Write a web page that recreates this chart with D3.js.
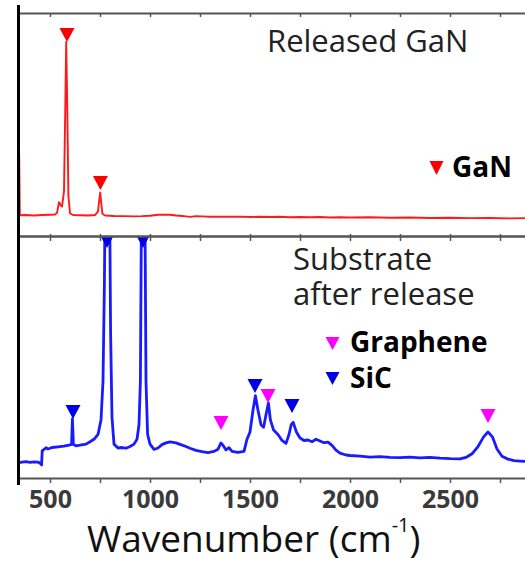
<!DOCTYPE html>
<html>
<head>
<meta charset="utf-8">
<script src="https://cdn.jsdelivr.net/npm/d3@7"></script>
<style>
  body { margin: 0; background: #fff; }
  svg { display: block; font-family: "Open Sans", "DejaVu Sans", sans-serif; }
</style>
</head>
<body>
<svg id="chart" width="525" height="565"></svg>
<script>
// Raman spectra, wavenumber (cm^-1) vs intensity (a.u.)
const ganSpectrum = [
  [346, 36], [349, 9.3], [380, 9.4], [420, 9.2], [460, 9.4], [500, 9.5], [525, 9.6],
  [535, 10.4], [545, 15.2], [552, 14.0], [560, 13.2], [570, 20], [576, 55], [581, 87],
  [586, 60], [592, 18], [600, 10.2], [615, 9.4], [650, 9.3], [690, 9.2], [725, 9.4],
  [740, 11], [746, 16], [751, 19.5], [756, 15], [762, 10], [775, 9.2], [820, 9.0],
  [870, 8.9], [920, 8.8], [960, 8.9], [1000, 9.1], [1040, 9.5], [1070, 9.6], [1100, 9.5],
  [1130, 9.2], [1160, 9.0], [1200, 8.6], [1230, 8.9], [1260, 8.8], [1300, 8.6],
  [1350, 8.7], [1400, 8.6], [1450, 8.7], [1500, 8.5], [1550, 8.6], [1600, 8.5],
  [1650, 8.6], [1700, 8.4], [1750, 8.5], [1800, 8.4], [1850, 8.5], [1900, 8.3],
  [1950, 8.4], [2000, 8.3], [2100, 8.4], [2200, 8.2], [2300, 8.3], [2400, 8.1],
  [2500, 8.2], [2600, 8.0], [2700, 8.1], [2800, 7.9], [2880, 8.0]
];

const substrateSpectrum = [
  [345, 6.3], [360, 6.6], [380, 6.8], [400, 6.5], [420, 6.7], [440, 6.6], [452, 6.0],
  [458, 5.4], [461, 11.2], [470, 11.8], [480, 12.5], [490, 12.0], [510, 12.6],
  [540, 12.9], [570, 13.2], [595, 13.6], [608, 13.9], [612, 24.4], [617, 13.8],
  [630, 13.3], [650, 13.6], [680, 14.0], [700, 15], [720, 16], [740, 18], [755, 24],
  [765, 40], [772, 80], [778, 140], [786, 170], [796, 140], [803, 60], [810, 25],
  [820, 14], [840, 12.4], [860, 12.6], [880, 12.3], [900, 13], [920, 14], [935, 16],
  [945, 22], [952, 40], [958, 120], [966, 170], [974, 120], [980, 40], [988, 18],
  [1000, 14], [1020, 11.8], [1040, 12.4], [1060, 13.8], [1080, 14.5], [1100, 14.9],
  [1130, 14.5], [1150, 13.9], [1180, 13], [1200, 12.3], [1230, 11.4], [1260, 10.9],
  [1290, 10.5], [1320, 11], [1340, 11.9], [1355, 14.5], [1365, 13.5], [1380, 11.6],
  [1395, 12.5], [1410, 11], [1440, 10.6], [1470, 11], [1485, 16], [1500, 19],
  [1515, 28], [1527, 34], [1540, 28], [1555, 22], [1568, 21], [1582, 27], [1592, 31],
  [1602, 24], [1618, 19.8], [1640, 18], [1660, 15.5], [1680, 14.3], [1695, 18],
  [1706, 22], [1716, 23], [1732, 19], [1750, 16.5], [1770, 15.5], [1790, 15.7],
  [1810, 15.0], [1830, 16], [1850, 15.3], [1870, 14.6], [1890, 14.8], [1910, 13.5],
  [1930, 11.5], [1950, 10.3], [1980, 9.5], [2000, 9.3], [2050, 9.0], [2100, 8.6],
  [2150, 8.8], [2200, 8.5], [2250, 8.4], [2300, 8.6], [2350, 8.3], [2400, 8.5],
  [2450, 8.2], [2500, 8.0], [2550, 7.9], [2580, 8.5], [2610, 10], [2640, 13],
  [2668, 17], [2690, 19], [2712, 17], [2735, 12], [2760, 9], [2790, 7.8], [2820, 7.2],
  [2850, 7.0], [2880, 6.8]
];

// peak markers: [wavenumber, intensity at triangle tip]
const ganPeaks = [[585, 87], [752, 20.6]];
const sicPeaks = [[615, 24.4], [785, 95], [965, 95], [1525, 35.1], [1710, 26.9]];
const graphenePeaks = [[1355, 19.8], [1590, 31], [2690, 22.7]];

const xTicks = [500, 750, 1000, 1250, 1500, 1750, 2000, 2250, 2500, 2750];
const xLabels = [500, 1000, 1500, 2000, 2500];

const svg = d3.select('#chart');

const left = 19, right = 526;
const topY0 = 13, midY = 236, botY1 = 478;

const x = d3.scaleLinear().domain([345, 2880]).range([left, right]);
const yTop = d3.scaleLinear().domain([0, 100]).range([midY, topY0]);
const yBot = d3.scaleLinear().domain([0, 100]).range([botY1, midY]);

const defs = svg.append('defs');
defs.append('clipPath').attr('id', 'clipTop').append('rect')
  .attr('x', left).attr('y', topY0).attr('width', right - left).attr('height', midY - topY0);
defs.append('clipPath').attr('id', 'clipBot').append('rect')
  .attr('x', left).attr('y', midY).attr('width', right - left).attr('height', botY1 - midY);

// spectra
const lineTop = d3.line().x(d => x(d[0])).y(d => yTop(d[1]));
const lineBot = d3.line().x(d => x(d[0])).y(d => yBot(d[1]));

svg.append('path')
  .datum(ganSpectrum)
  .attr('clip-path', 'url(#clipTop)')
  .attr('fill', 'none')
  .attr('stroke', '#ff1a1a')
  .attr('stroke-width', 1.9)
  .attr('stroke-linejoin', 'round')
  .attr('d', lineTop);

svg.append('path')
  .datum(substrateSpectrum)
  .attr('clip-path', 'url(#clipBot)')
  .attr('fill', 'none')
  .attr('stroke', '#1a1aff')
  .attr('stroke-width', 2.8)
  .attr('stroke-linejoin', 'round')
  .attr('d', lineBot);

// triangle markers, tip at (px, py)
function tri(px, py, w, h) {
  return `M${px - w / 2},${py - h}L${px + w / 2},${py - h}L${px},${py}Z`;
}

function drawMarkers(data, yScale, color, clip) {
  svg.append('g').attr('clip-path', clip)
    .selectAll('path')
    .data(data)
    .join('path')
    .attr('d', d => tri(x(d[0]), yScale(d[1]), 15, 14))
    .attr('fill', color);
}
drawMarkers(ganPeaks, yTop, '#ff0000', 'url(#clipTop)');
drawMarkers(sicPeaks, yBot, '#0000e6', 'url(#clipBot)');
drawMarkers(graphenePeaks, yBot, '#ff00ff', 'url(#clipBot)');

// axes
function styleAxis(g) {
  g.select('.domain').attr('stroke', '#555').attr('stroke-width', 2);
  g.selectAll('.tick line').attr('stroke', '#555').attr('stroke-width', 1.5);
}

svg.append('g')
  .attr('transform', `translate(0,${topY0})`)
  .call(d3.axisBottom(x).tickValues(xTicks).tickSizeInner(4).tickSizeOuter(0).tickFormat(''))
  .call(styleAxis);

svg.append('g')
  .attr('transform', `translate(0,${midY})`)
  .call(d3.axisBottom(x).tickValues(xTicks).tickSizeInner(5).tickSizeOuter(0).tickFormat(''))
  .call(styleAxis);

svg.append('g')
  .attr('transform', `translate(0,${midY})`)
  .call(d3.axisTop(x).tickValues(xTicks).tickSizeInner(2).tickSizeOuter(0).tickFormat(''))
  .call(styleAxis);

const xAxis = svg.append('g')
  .attr('transform', `translate(0,${botY1})`)
  .call(d3.axisBottom(x).tickValues(xTicks).tickSizeInner(5).tickSizeOuter(0)
    .tickPadding(7)
    .tickFormat(d => xLabels.includes(d) ? d : ''))
  .call(styleAxis);
xAxis.selectAll('.tick text')
  .attr('font-family', '"Open Sans", sans-serif')
  .attr('font-size', 25)
  .attr('font-weight', 'bold')
  .attr('fill', '#3a3a3a');

// left black bar
svg.append('line')
  .attr('x1', 18.5).attr('x2', 18.5).attr('y1', 5).attr('y2', 485)
  .attr('stroke', '#000').attr('stroke-width', 3);

// texts
const txt = (tx, ty, s, size, weight, fill) => svg.append('text')
  .attr('x', tx).attr('y', ty)
  .attr('font-size', size).attr('font-weight', weight || 'normal')
  .attr('fill', fill || '#222').text(s);

txt(267, 52, 'Released GaN', 31);

// two-line label as one text block
const sub = svg.append('text')
  .attr('x', 293).attr('y', 270)
  .attr('font-size', 31).attr('fill', '#222');
sub.append('tspan').attr('x', 293).text('Substrate');
sub.append('tspan').attr('x', 293).attr('dy', 35).text('after release');

txt(452, 177, 'GaN', 28, 'bold', '#000');
txt(350, 352, 'Graphene', 28, 'bold', '#000');
txt(350, 388, 'SiC', 28, 'bold', '#000');

svg.append('path').attr('d', tri(436.5, 175, 14, 14)).attr('fill', '#ff0000');
svg.append('path').attr('d', tri(332.5, 350, 14, 13)).attr('fill', '#ff00ff');
svg.append('path').attr('d', tri(332.5, 385, 14, 13)).attr('fill', '#0000e6');

// axis title with superscript
const title = svg.append('text')
  .attr('x', 87).attr('y', 552)
  .attr('font-size', 37).attr('fill', '#111');
title.append('tspan').text('Wavenumber (cm');
title.append('tspan').attr('font-size', 20).attr('dy', -20).text('-1');
title.append('tspan').attr('dy', 20).text(')');
</script>
</body>
</html>
